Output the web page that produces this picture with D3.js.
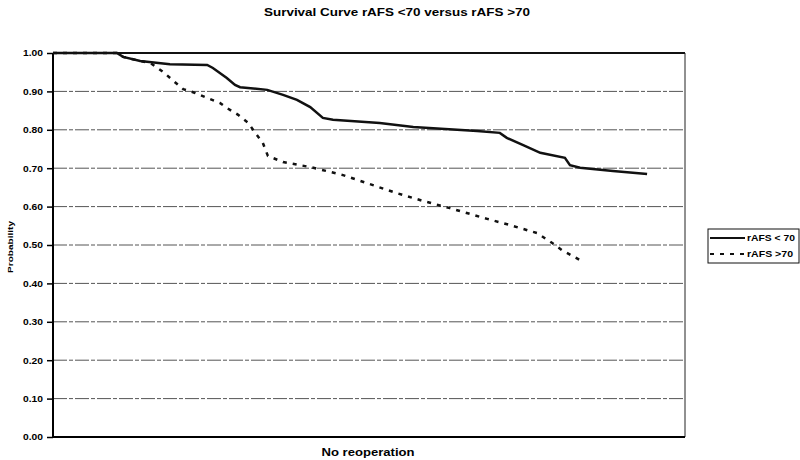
<!DOCTYPE html>
<html>
<head>
<meta charset="utf-8">
<script src="https://cdn.jsdelivr.net/npm/d3@7"></script>
<style>
  body { margin: 0; background: #fff; }
  text { font-family: "Liberation Sans", Arial, sans-serif; font-weight: bold; fill: #000; }
</style>
</head>
<body>
<div id="chart"></div>
<script>
// follow-up position (share of the x axis, 0-100) and survival probability
var groupLow = "rAFS < 70";
var groupHigh = "rAFS >70";

var lowX = [0, 10.1, 11.1, 13.8, 18.5, 24.4, 25.3, 27.5, 28.8, 29.6, 33.9, 36.4, 38.6, 40.7, 42.7, 44.3, 51.7, 57.0, 67.1, 70.7, 71.8, 74.4, 77.1, 81.0, 81.8, 83.4, 88.6, 94.0];
var lowY = [1.00, 1.00, 0.990, 0.979, 0.971, 0.969, 0.961, 0.935, 0.917, 0.911, 0.904, 0.891, 0.878, 0.859, 0.831, 0.826, 0.818, 0.807, 0.797, 0.792, 0.779, 0.760, 0.740, 0.727, 0.708, 0.701, 0.693, 0.685];

var highX = [0, 10.1, 11.1, 13.8, 15.4, 17.4, 19.3, 20.6, 22.5, 24.4, 26.4, 27.5, 29.3, 30.9, 32.0, 33.2, 34.0, 36.4, 40.7, 45.9, 49.7, 54.4, 58.5, 62.8, 68.7, 72.3, 76.6, 79.0, 80.5, 83.9];
var highY = [1.00, 1.00, 0.990, 0.979, 0.974, 0.951, 0.924, 0.906, 0.896, 0.883, 0.870, 0.857, 0.839, 0.818, 0.792, 0.766, 0.732, 0.716, 0.703, 0.682, 0.661, 0.635, 0.615, 0.596, 0.568, 0.552, 0.531, 0.505, 0.487, 0.456];

var yTicks = [0, 0.1, 0.2, 0.3, 0.4, 0.5, 0.6, 0.7, 0.8, 0.9, 1.0];

var svgWidth = 800;
var svgHeight = 460;

var margin = { top: 53, right: 115, bottom: 23, left: 53 };
var width = svgWidth - margin.left - margin.right;
var height = svgHeight - margin.top - margin.bottom;

var svg = d3.select("#chart")
  .append("svg")
  .attr("width", svgWidth)
  .attr("height", svgHeight);

var chartGroup = svg.append("g")
  .attr("transform", `translate(${margin.left}, ${margin.top})`);

var xScale = d3.scaleLinear().domain([0, 100]).range([0, width]);
var yScale = d3.scaleLinear().domain([0, 1]).range([height, 0]);

// gridlines
chartGroup.selectAll(".grid")
  .data(yTicks.filter(d => d > 0 && d < 1))
  .enter()
  .append("line")
  .attr("x1", 0)
  .attr("x2", width)
  .attr("y1", d => yScale(d))
  .attr("y2", d => yScale(d))
  .attr("stroke", "#555")
  .attr("stroke-width", 1)
  .attr("stroke-dasharray", "14,2,4,2");

// plot border (top and right)
chartGroup.append("line")
  .attr("x1", 0).attr("x2", width)
  .attr("y1", 0).attr("y2", 0)
  .attr("stroke", "#111").attr("stroke-width", 2);
chartGroup.append("line")
  .attr("x1", width).attr("x2", width)
  .attr("y1", 0).attr("y2", height)
  .attr("stroke", "#222").attr("stroke-width", 1);

// y axis
var leftAxis = d3.axisLeft(yScale)
  .tickValues(yTicks)
  .tickSize(6)
  .tickFormat(d3.format(".2f"));

var yAxis = chartGroup.append("g").call(leftAxis);
yAxis.select(".domain").attr("stroke-width", 2).attr("d", `M0,0V${height}`);
yAxis.selectAll(".tick line").attr("stroke-width", 1.5);
yAxis.selectAll("text")
  .attr("x", -10)
  .attr("font-size", "9px")
  .attr("textLength", 20)
  .attr("lengthAdjust", "spacingAndGlyphs")
  .style("font-family", "'Liberation Sans', Arial, sans-serif")
  .style("font-weight", "bold");

// x axis, no ticks
chartGroup.append("line")
  .attr("x1", 0).attr("x2", width)
  .attr("y1", height).attr("y2", height)
  .attr("stroke", "#000").attr("stroke-width", 2);

// survival curves
var line = d3.line()
  .x(d => xScale(d[0]))
  .y(d => yScale(d[1]));

var lowData = d3.zip(lowX, lowY);
var highData = d3.zip(highX, highY);

chartGroup.append("path")
  .datum(highData)
  .attr("d", line)
  .attr("fill", "none")
  .attr("stroke", "#111")
  .attr("stroke-width", 2.5)
  .attr("stroke-dasharray", "4,6");

chartGroup.append("path")
  .datum(lowData)
  .attr("d", line)
  .attr("fill", "none")
  .attr("stroke", "#111")
  .attr("stroke-width", 2.5);

// title and axis labels
svg.append("text")
  .attr("x", 397)
  .attr("y", 16)
  .attr("text-anchor", "middle")
  .attr("font-size", "11px")
  .attr("textLength", 266)
  .attr("lengthAdjust", "spacingAndGlyphs")
  .text("Survival Curve rAFS <70 versus rAFS >70");

svg.append("text")
  .attr("x", 368)
  .attr("y", 456)
  .attr("text-anchor", "middle")
  .attr("font-size", "11px")
  .attr("textLength", 93)
  .attr("lengthAdjust", "spacingAndGlyphs")
  .text("No reoperation");

svg.append("text")
  .attr("transform", "rotate(-90)")
  .attr("x", -247)
  .attr("y", 13)
  .attr("text-anchor", "middle")
  .attr("font-size", "8px")
  .attr("textLength", 52)
  .attr("lengthAdjust", "spacingAndGlyphs")
  .text("Probability");

// legend
var legend = svg.append("g").attr("transform", "translate(708, 229)");
legend.append("rect")
  .attr("width", 91).attr("height", 34)
  .attr("fill", "#fff").attr("stroke", "#111").attr("stroke-width", 1);

var legendItems = [
  { name: groupLow, dash: null, len: 48 },
  { name: groupHigh, dash: "4,6", len: 46 }
];

legendItems.forEach(function(item, i) {
  var yPos = 9 + i * 16;
  legend.append("line")
    .attr("x1", 2).attr("x2", 37)
    .attr("y1", yPos).attr("y2", yPos)
    .attr("stroke", "#111").attr("stroke-width", 2)
    .attr("stroke-dasharray", item.dash);
  legend.append("text")
    .attr("x", 39)
    .attr("y", yPos + 3)
    .attr("font-size", "8.5px")
    .attr("textLength", item.len)
    .attr("lengthAdjust", "spacingAndGlyphs")
    .text(item.name);
});
</script>
</body>
</html>
